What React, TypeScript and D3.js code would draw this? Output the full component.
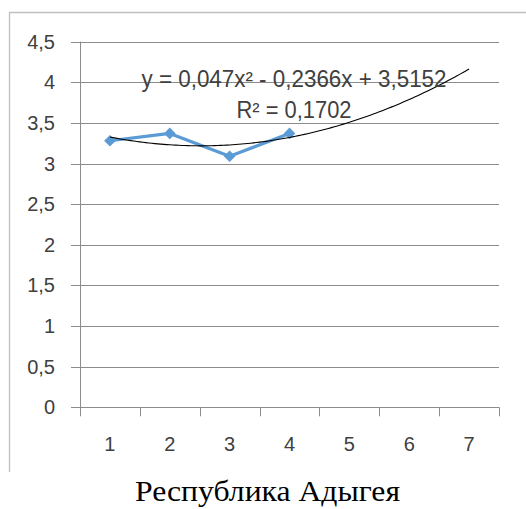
import React from "react";
import * as d3 from "d3";

const categories = ["1", "2", "3", "4", "5", "6", "7"];
const seriesValues = [3.28, 3.37, 3.09, 3.37];
const yTicks = [0, 0.5, 1, 1.5, 2, 2.5, 3, 3.5, 4, 4.5];
const trendCoef = { a: 0.047, b: -0.2366, c: 3.5152 };
const equationText = "y = 0,047x² - 0,2366x + 3,5152";
const r2Label = "R² = 0,1702";
const title = "Республика Адыгея";

const W = 526;
const H = 509;
const left = 80;
const right = 499;
const top = 41.6;
const bottom = 407.3;
const FONT = "'Liberation Sans', Arial, sans-serif";

export default function App() {
  const x = d3.scaleBand<string>().domain(categories).range([left, right]).padding(0);
  const y = d3.scaleLinear().domain([0, 4.5]).range([bottom, top]);
  const cx = (i: number) => (x(categories[i]) as number) + x.bandwidth() / 2;
  const xNum = d3.scaleLinear().domain([1, 7]).range([cx(0), cx(6)]);

  const line = d3
    .line<number>()
    .x((_, i) => cx(i))
    .y((d) => y(d));

  const trendPts = d3.range(1, 7.0001, 0.05).map((v) => [v, trendCoef.a * v * v + trendCoef.b * v + trendCoef.c]);
  const trend = d3
    .line<number[]>()
    .x((d) => xNum(d[0]))
    .y((d) => y(d[1]))
    .curve(d3.curveLinear);

  const marker = d3.symbol().type(d3.symbolSquare).size(52)();
  const fmt = (v: number) => String(v).replace(".", ",");

  const boundaries = [...categories.map((c) => x(c) as number), right];

  return (
    <svg width={W} height={H} style={{ position: "absolute", left: 0, top: 0, background: "#fff" }}>
      {/* chart frame */}
      <path d={`M9.5,472 V12.5 H526`} fill="none" stroke="#bfbfbf" strokeWidth={1.3} />
      {/* gridlines */}
      {yTicks.map((t) => (
        <line key={t} x1={71} x2={right} y1={Math.round(y(t)) + 0.5} y2={Math.round(y(t)) + 0.5} stroke="#8c8c8c" strokeWidth={1} />
      ))}
      {/* y axis */}
      <line x1={left + 0.5} x2={left + 0.5} y1={y(4.5)} y2={bottom} stroke="#8c8c8c" strokeWidth={1} />
      {/* x ticks */}
      {boundaries.map((b, i) => (
        <line key={i} x1={Math.round(b) + 0.5} x2={Math.round(b) + 0.5} y1={bottom} y2={bottom + 9} stroke="#8c8c8c" strokeWidth={1} />
      ))}
      {/* y labels */}
      {yTicks.map((t) => (
        <text key={t} x={55} y={y(t)} dy="0.35em" textAnchor="end" fontFamily={FONT} fontSize={20} fill="#404040">
          {fmt(t)}
        </text>
      ))}
      {/* x labels */}
      {categories.map((c, i) => (
        <text key={c} x={cx(i)} y={451} textAnchor="middle" fontFamily={FONT} fontSize={20} fill="#404040">
          {c}
        </text>
      ))}
      {/* series */}
      <path d={line(seriesValues) || ""} fill="none" stroke="#5b9bd5" strokeWidth={3.2} strokeLinejoin="round" />
      {seriesValues.map((v, i) => (
        <path key={i} d={marker || ""} transform={`translate(${cx(i)},${y(v)}) rotate(45)`} fill="#5b9bd5" stroke="#5b9bd5" strokeWidth={1} />
      ))}
      {/* trendline */}
      <path d={trend(trendPts) || ""} fill="none" stroke="#000" strokeWidth={1.1} />
      {/* equation */}
      <text x={294} y={87} textAnchor="middle" fontFamily={FONT} fontSize={23} fill="#404040" textLength={305} lengthAdjust="spacingAndGlyphs">
        {equationText}
      </text>
      <text x={294} y={118} textAnchor="middle" fontFamily={FONT} fontSize={23} fill="#404040" textLength={115} lengthAdjust="spacingAndGlyphs">
        {r2Label}
      </text>
      {/* title */}
      <text x={267.5} y={501} textAnchor="middle" fontFamily="'Liberation Serif', 'Times New Roman', serif" fontSize={29} fill="#000" textLength={265} lengthAdjust="spacingAndGlyphs">
        {title}
      </text>
    </svg>
  );
}
